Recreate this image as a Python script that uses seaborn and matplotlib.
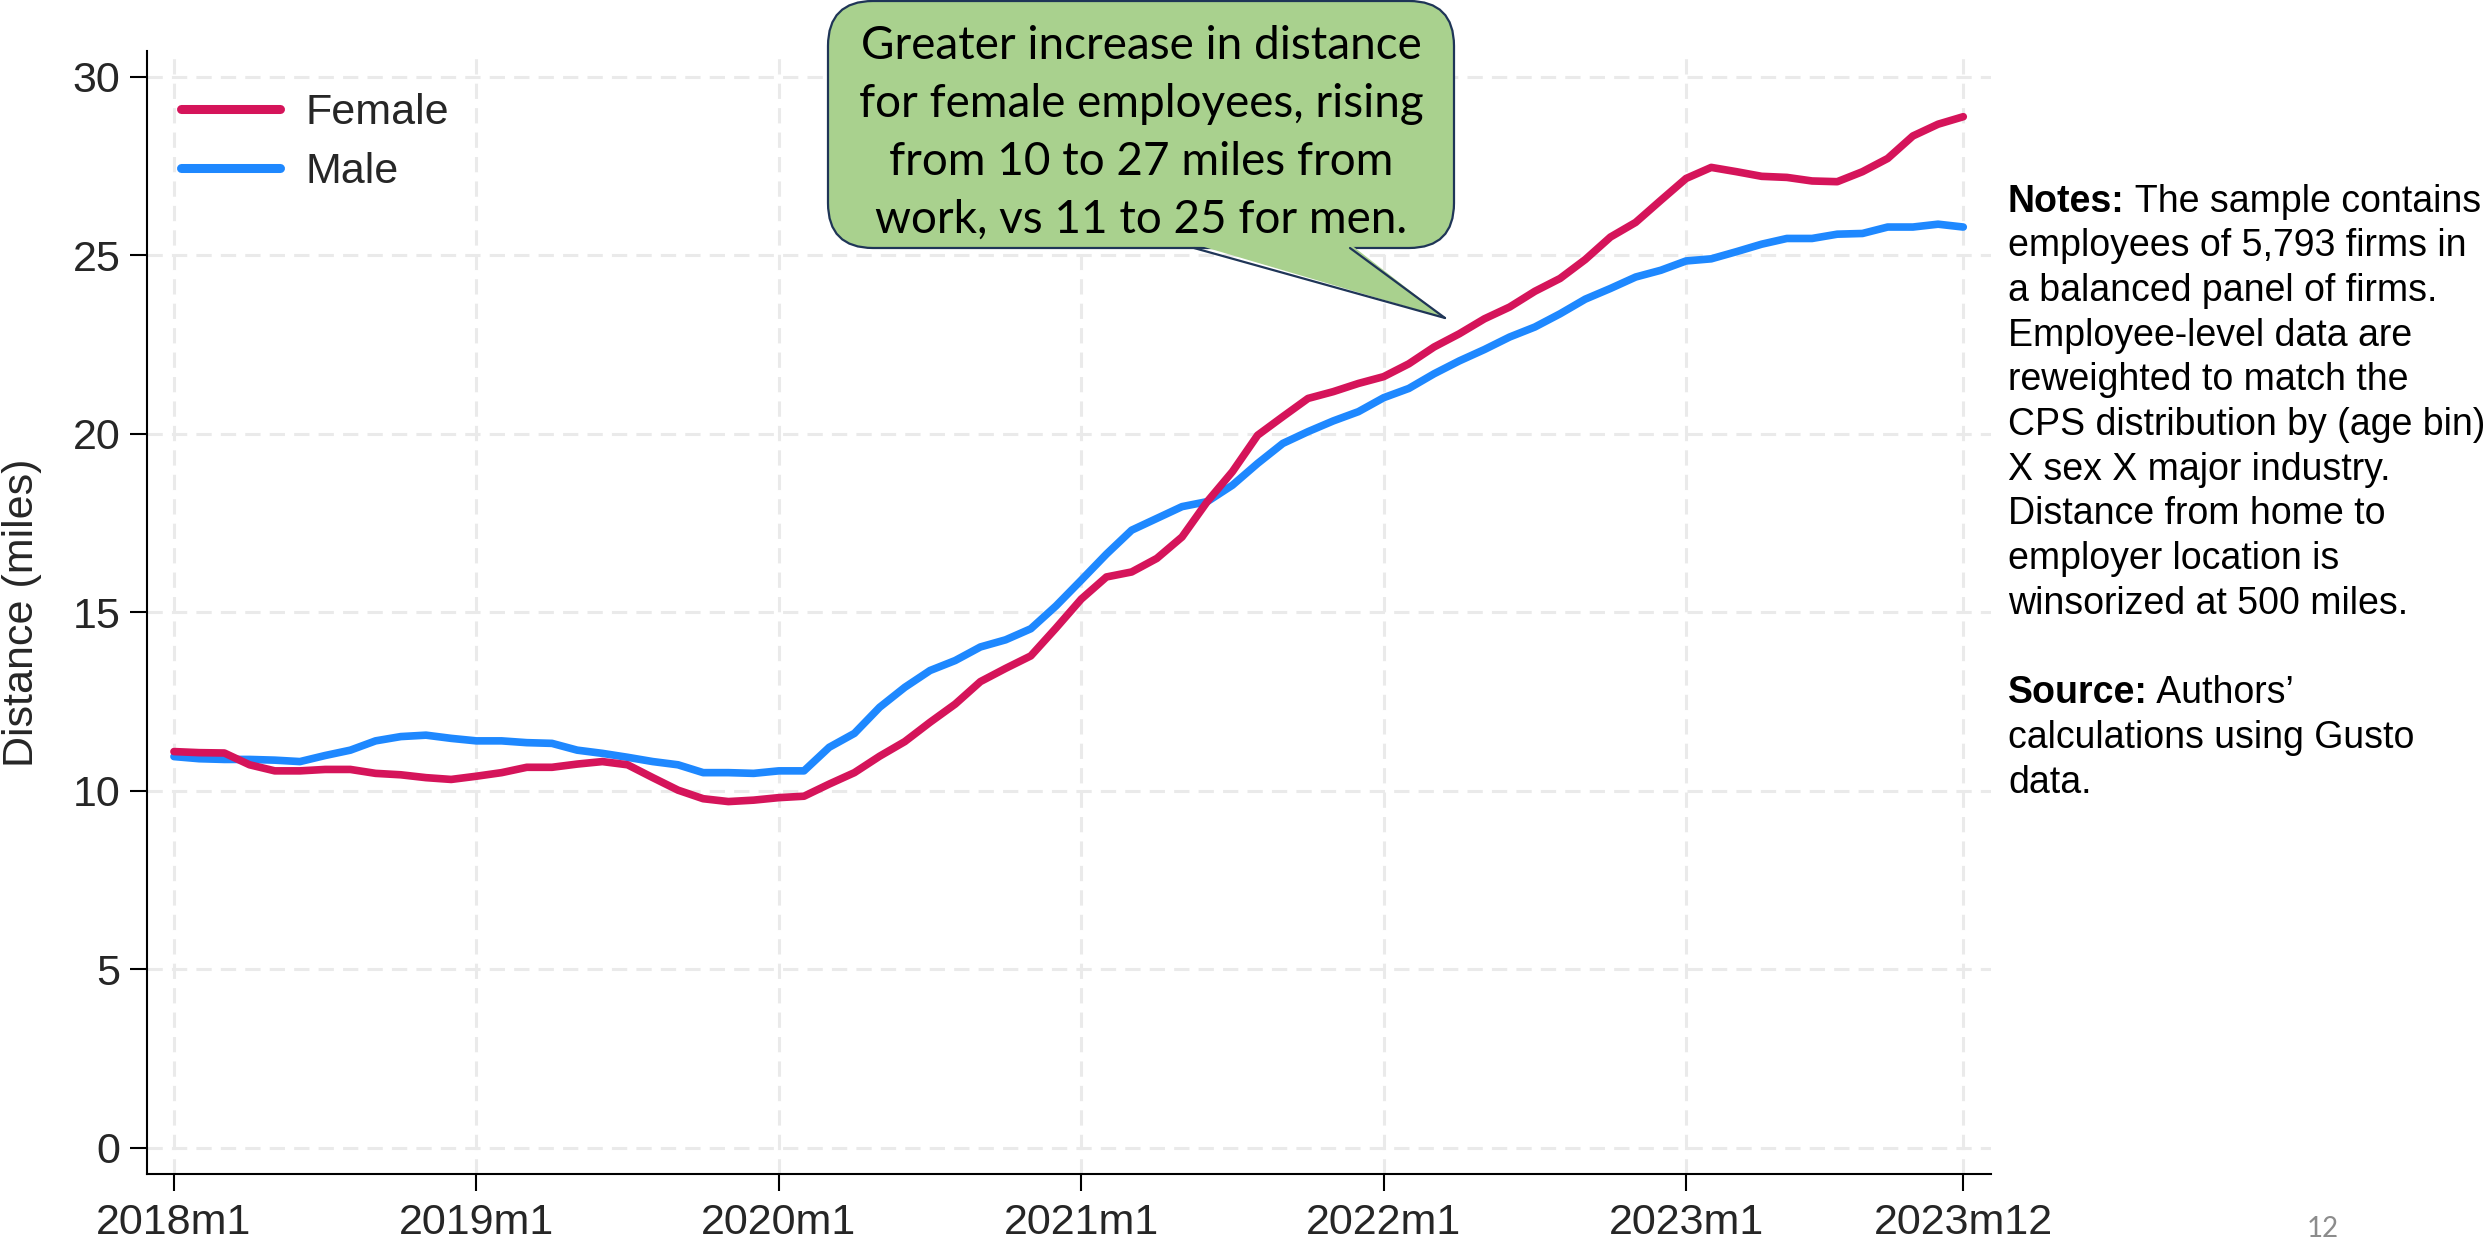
import numpy as np
import pandas as pd
import seaborn as sns
import matplotlib.pyplot as plt
from matplotlib.patches import FancyBboxPatch, Polygon
from matplotlib.lines import Line2D

# monthly series 2018m1 .. 2023m12
female = [11.10, 11.07, 11.06, 10.73, 10.56, 10.56, 10.60, 10.60, 10.49, 10.45, 10.37, 10.32,
          10.41, 10.51, 10.66, 10.66, 10.75, 10.82, 10.73, 10.37, 10.02, 9.78, 9.70, 9.74,
          9.81, 9.85, 10.19, 10.51, 10.97, 11.38, 11.92, 12.43, 13.06, 13.43, 13.78, 14.56,
          15.37, 15.99, 16.13, 16.51, 17.11, 18.10, 18.94, 19.96, 20.48, 20.99, 21.18, 21.41,
          21.60, 21.96, 22.43, 22.80, 23.22, 23.55, 23.99, 24.35, 24.88, 25.51, 25.92, 26.54,
          27.15, 27.46, 27.34, 27.21, 27.18, 27.08, 27.06, 27.34, 27.71, 28.34, 28.67, 28.88]
male = [10.96, 10.90, 10.88, 10.88, 10.86, 10.82, 10.99, 11.14, 11.40, 11.52, 11.56, 11.47,
        11.40, 11.40, 11.35, 11.33, 11.14, 11.05, 10.94, 10.82, 10.73, 10.51, 10.51, 10.49,
        10.56, 10.56, 11.22, 11.61, 12.34, 12.90, 13.37, 13.65, 14.03, 14.23, 14.54, 15.18,
        15.90, 16.63, 17.30, 17.63, 17.96, 18.10, 18.56, 19.17, 19.73, 20.06, 20.36, 20.62,
        21.01, 21.27, 21.68, 22.04, 22.36, 22.71, 22.99, 23.36, 23.77, 24.07, 24.39, 24.58,
        24.84, 24.90, 25.10, 25.31, 25.47, 25.47, 25.59, 25.61, 25.79, 25.79, 25.87, 25.79]
months = np.arange(len(female))
tick_pos = [0, 12, 24, 36, 48, 60, 71]
tick_labels = ["2018m1", "2019m1", "2020m1", "2021m1", "2022m1", "2023m1", "2023m12"]

callout_lines = ["Greater increase in distance", "for female employees, rising",
                 "from 10 to 27 miles from", "work, vs 11 to 25 for men."]
# (bold lead-in, rest of line)
notes_lines = [("Notes:", " The sample contains"), ("", "employees of 5,793 firms in"),
               ("", "a balanced panel of firms."), ("", "Employee-level data are"),
               ("", "reweighted to match the"), ("", "CPS distribution by (age bin)"),
               ("", "X sex X major industry."), ("", "Distance from home to"),
               ("", "employer location is"), ("", "winsorized at 500 miles."), ("", ""),
               ("Source:", " Authors’"), ("", "calculations using Gusto"), ("", "data.")]

df = pd.concat([pd.DataFrame({"month": months, "dist": male, "sex": "Male"}),
                pd.DataFrame({"month": months, "dist": female, "sex": "Female"})])

sns.set_theme(style="white")
plt.rcParams.update({'font.family': ['Liberation Sans', 'DejaVu Sans']})

W, H = 2484, 1239
fig = plt.figure(figsize=(W / 100, H / 100), dpi=100)
ax = fig.add_axes([147 / W, 1 - 1174 / H, (1991 - 147) / W, (1174 - 51) / H])

pal = {"Female": "#D5145A", "Male": "#1E88FF"}
sns.lineplot(data=df, x="month", y="dist", hue="sex", hue_order=["Male", "Female"],
             palette=pal, linewidth=5.5, ax=ax)

ax.set_xlim(-1.07, 72.1)
ax.set_ylim(-0.73, 30.72)
ax.set_xticks(tick_pos)
ax.set_xticklabels(tick_labels)
ax.set_yticks(range(0, 31, 5))
ax.set_xlabel("")
ax.set_ylabel("Distance (miles)", fontsize=31)
ax.yaxis.set_label_coords(-0.057, 0.5)
ax.grid(True, color="#EAEAEA", linestyle=(0, (5, 3)), linewidth=2.2)
ax.set_axisbelow(True)
ax.tick_params(axis="both", which="both", bottom=True, left=True, direction="out",
               length=12, width=1.5, color="black", labelsize=31)
ax.tick_params(axis="x", pad=9)
ax.tick_params(axis="y", pad=7)
for s in ["top", "right"]:
    ax.spines[s].set_visible(False)
for s in ["left", "bottom"]:
    ax.spines[s].set_linewidth(1.5)
    ax.spines[s].set_color("black")

h, l = ax.get_legend_handles_labels()
order = [l.index("Female"), l.index("Male")]
leg = ax.legend([h[i] for i in order], [l[i] for i in order], loc="upper left",
                bbox_to_anchor=(0.0184, 0.9627), frameon=False, fontsize=31,
                handlelength=2.3, handletextpad=0.6, labelspacing=0.44,
                borderpad=0, borderaxespad=0)
for line in leg.get_lines():
    line.set_linewidth(6.5)

# callout bubble, pixel coords of the figure
tr = fig.dpi_scale_trans
def px(x, y):
    return (x / 100, (H - y) / 100)

green = "#A9D18E"
navy = "#1F3557"
box = FancyBboxPatch(px(828, 248), (1454 - 828) / 100, (248 - 1) / 100,
                     boxstyle="round,pad=0,rounding_size=0.45", transform=tr,
                     fc=green, ec=navy, lw=1.6, zorder=5)
fig.add_artist(box)
tip = px(1445, 318)
fig.add_artist(Polygon([px(1194, 244), px(1350, 244), tip], closed=True,
                       transform=tr, fc=green, ec="none", zorder=6))
for bx in [1194, 1350]:
    b = px(bx, 248)
    fig.add_artist(Line2D([b[0], tip[0]], [b[1], tip[1]], transform=tr,
                          color=navy, lw=1.6, zorder=7))
for i, t in enumerate(callout_lines):
    fig.text(1141 / W, 1 - (59 + i * 58) / H, t, ha="center", va="baseline",
             fontsize=33, family=["Lato", "DejaVu Sans"], color="black", zorder=8)

fig.canvas.draw()
renderer = fig.canvas.get_renderer()
for i, (bold, rest) in enumerate(notes_lines):
    y = 1 - (211.5 + i * 44.7) / H
    x = 2008 / W
    if bold:
        tb = fig.text(x, y, bold, ha="left", va="baseline", fontsize=27,
                      fontweight="bold", color="black")
        x = tb.get_window_extent(renderer).x1 / W
    if rest:
        fig.text(x, y, rest, ha="left", va="baseline", fontsize=27, color="black")

fig.text(2323 / W, 1 - 1237 / H, "12", ha="center", va="baseline", fontsize=20,
         family=["Lato", "DejaVu Sans"], color="#8C8C8C")

plt.savefig("out.png", dpi=100)
